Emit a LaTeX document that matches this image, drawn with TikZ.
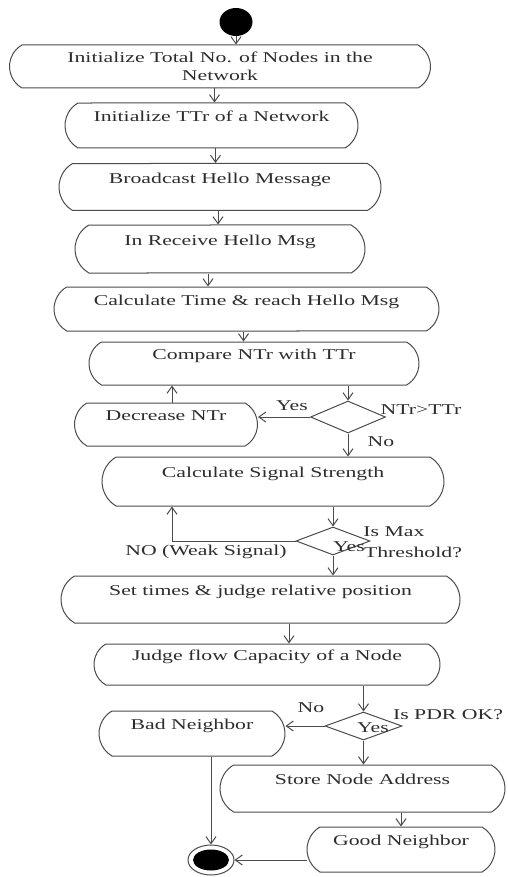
\documentclass[tikz,border=0pt]{standalone}
\usepackage{fontspec}
\setmainfont{Liberation Serif}[FakeStretch=1.45]
\usepackage{tikz}
\usetikzlibrary{shapes.geometric,shapes.misc,arrows.meta}
\definecolor{lineGray}{RGB}{75,75,75}
\definecolor{textGray}{RGB}{45,45,45}

\begin{document}
\begin{tikzpicture}[x=1pt, y=-1pt, line width=1pt]%
  \tikzset{normal arrow/.style={draw,-{Straight Barb[length=7pt,width=10pt]},lineGray}}
  \tikzset{action/.style={draw=lineGray, rounded rectangle, rounded rectangle arc length=120, minimum height=45pt, inner sep=2pt, align=center, text=textGray}}
  \tikzset{decision/.style={draw=lineGray, diamond, inner sep=0pt, minimum width=75pt, minimum height=30pt}}
  \tikzset{guard/.style={text=textGray, inner sep=0pt}}
  \tikzstyle{every node}=[font=\fontsize{15}{18}\selectfont]

  \useasboundingbox (0,0) rectangle (507,877);

  \node[ellipse, fill=black, minimum width=33pt, minimum height=28pt, inner sep=0pt] at (236,22) (start) {};
  \node[action, minimum width=425pt, minimum height=43pt] at (220,66.5) (init) {Initialize Total No. of Nodes in the\\Network};
  \node[action, minimum width=297pt] at (211.5,125.5) (ttr) {Initialize TTr of a Network\\\mbox{}};
  \node[action, minimum width=326pt, minimum height=47pt] at (220,187) (bcast) {Broadcast Hello Message\\\mbox{}};
  \node[action, minimum width=294pt, minimum height=48pt] at (220,249) (recv) {In Receive Hello Msg\\\mbox{}};
  \node[action, minimum width=389pt, minimum height=44pt] at (246.5,309) (calc) {Calculate Time \& reach Hello Msg\\\mbox{}};
  \node[action, minimum width=334pt, minimum height=43pt] at (254,363.5) (cmp) {Compare NTr with TTr\\\mbox{}};
  \node[decision, minimum height=32pt] at (348,417) (ntr) {};
  \node[action, minimum width=187pt, minimum height=43pt] at (166,424.5) (dec) {Decrease NTr\\\mbox{}};
  \node[action, minimum width=346pt, minimum height=49pt] at (273,481.5) (sig) {Calculate Signal Strength\\\mbox{}};
  \node[decision, minimum width=74pt, minimum height=28pt] at (333,541) (thr) {};
  \node[action, minimum width=403pt, minimum height=47pt] at (260.5,599.5) (pos) {Set times \& judge relative position\\\mbox{}};
  \node[action, minimum width=350pt, minimum height=41pt] at (267,664.5) (flow) {Judge flow Capacity of a Node\\\mbox{}};
  \node[decision, minimum width=77pt, minimum height=28pt] at (363.5,726) (pdr) {};
  \node[action, minimum width=190pt] at (192,733.5) (bad) {Bad Neighbor\\\mbox{}};
  \node[action, minimum width=289pt, minimum height=47pt] at (362.5,788.5) (store) {Store Node Address\\\mbox{}};
  \node[action, minimum width=192pt] at (401,849.5) (good) {Good Neighbor\\\mbox{}};
  \node[ellipse, draw=lineGray, minimum width=46pt, minimum height=30pt, inner sep=0pt] at (211,860) (end) {};
  \node[ellipse, fill=black, minimum width=36pt, minimum height=21pt, inner sep=0pt] at (end.center) (endDot) {};

  \node[guard] at (292,406) (yes1) {Yes};
  \node[guard] at (421,410) (gt) {NTr>TTr};
  \node[guard] at (381,442) (no1) {No};
  \node[guard] at (394,532) (ismax) {Is Max};
  \node[guard] at (413,552) (thold) {Threshold?};
  \node[guard] at (349,547) (yes2) {Yes};
  \node[guard] at (206,552) (weak) {NO (Weak Signal)};
  \node[guard] at (311,708) (no2) {No};
  \node[guard] at (373,728) (yes3) {Yes};
  \node[guard] at (448,715) (ispdr) {Is PDR OK?};

  \path[normal arrow] (start.south) -- (start.south |- init.north);
  \path[normal arrow] ([xshift=3pt]ttr.north |- init.south) -- ([xshift=3pt]ttr.north);
  \path[normal arrow] ([xshift=4pt]ttr.south) -- ([xshift=4pt]ttr.south |- bcast.north);
  \path[normal arrow] ([xshift=-2pt]bcast.south) -- ([xshift=-2pt]bcast.south |- recv.north);
  \path[normal arrow] ([xshift=-12pt]recv.south) -- ([xshift=-12pt]recv.south |- calc.north);
  \path[normal arrow] ([xshift=-3pt]calc.south) -- ([xshift=-3pt]calc.south |- cmp.north);
  \path[normal arrow] (ntr.north |- cmp.south) -- (ntr.north);
  \path[normal arrow] (ntr.west) -- (ntr.west -| dec.east);
  \path[normal arrow] ([xshift=6pt]dec.north) -- ([xshift=6pt]dec.north |- cmp.south);
  \path[normal arrow] (ntr.south) -- (ntr.south |- sig.north);
  \path[normal arrow] (thr.north |- sig.south) -- (thr.north);
  \path[normal arrow] (thr.west) -| ([xshift=6pt]dec.north |- sig.south);
  \path[normal arrow] (thr.south) -- (thr.south |- pos.north);
  \path[normal arrow] ([xshift=22pt]flow.north |- pos.south) -- ([xshift=22pt]flow.north);
  \path[normal arrow] (pdr.north |- flow.south) -- (pdr.north);
  \path[normal arrow] (pdr.west) -- (pdr.west -| bad.east);
  \path[normal arrow] (pdr.south) -- (pdr.south |- store.north);
  \path[normal arrow] (good.north |- store.south) -- (good.north);
  \path[normal arrow] (end.east -| good.west) -- (end.east);
  \path[normal arrow] (end.north |- bad.south) -- (end.north);
\end{tikzpicture}
\end{document}
